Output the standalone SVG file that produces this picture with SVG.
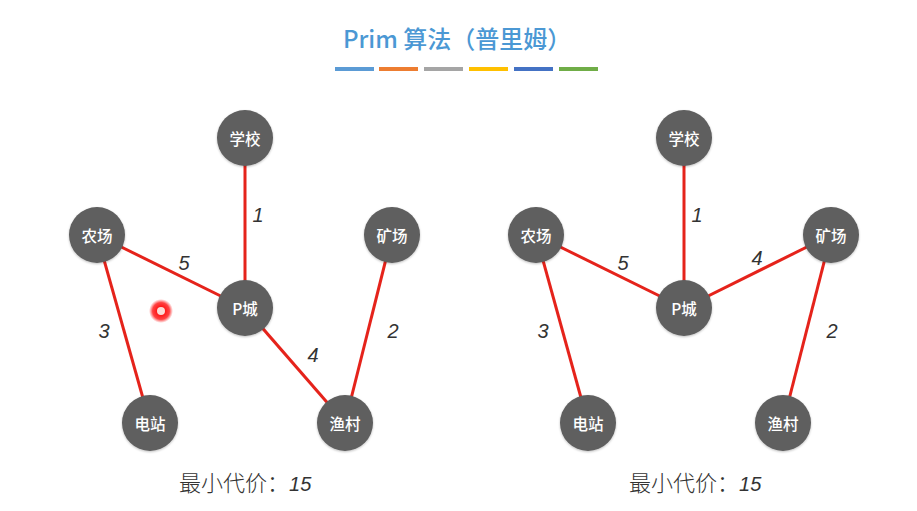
<svg xmlns="http://www.w3.org/2000/svg" width="917" height="511" viewBox="0 0 917 511">
<defs>
<filter id="sh" x="-30%" y="-30%" width="160%" height="160%">
<feDropShadow dx="0" dy="1" stdDeviation="1" flood-color="#000" flood-opacity="0.25"/>
</filter>
<radialGradient id="glow">
<stop offset="0.35" stop-color="#ff1a1a"/>
<stop offset="0.7" stop-color="#ff2020" stop-opacity="0.85"/>
<stop offset="1" stop-color="#ff4040" stop-opacity="0"/>
</radialGradient>
</defs>
<style>
.node circle{fill:#5e5e5e;filter:url(#sh)}
.node text{fill:#fff;font-family:"Noto Sans CJK SC","Liberation Sans",sans-serif;font-size:15.5px;font-weight:500;text-anchor:middle;dominant-baseline:central}
.edges line{stroke:#e5231b;stroke-width:3}
.w{font-family:"Liberation Sans",Arial,sans-serif;font-style:italic;font-size:20px;fill:#333;text-anchor:middle}
.cost{font-family:"Noto Sans CJK SC","Liberation Sans",sans-serif;font-size:22px;font-weight:300;fill:#333}
.cost tspan{font-family:"Liberation Sans",Arial,sans-serif;font-style:italic;font-size:20px}
.title{font-family:"Noto Sans CJK SC","Liberation Sans",sans-serif;font-size:24px;font-weight:500;fill:#4b98d4}
</style>
<rect width="917" height="511" fill="#fff"/>
<text class="title" x="343" y="48">Prim 算法（普里姆）</text>
<g id="bars">
<rect x="335" y="67" width="39" height="4" fill="#5b9bd5"/>
<rect x="379" y="67" width="39" height="4" fill="#ed7d31"/>
<rect x="424" y="67" width="39" height="4" fill="#a5a5a5"/>
<rect x="469" y="67" width="39" height="4" fill="#ffc000"/>
<rect x="514" y="67" width="39" height="4" fill="#4472c4"/>
<rect x="559" y="67" width="39" height="4" fill="#70ad47"/>
</g>
<g id="edges-left" class="edges">
<line x1="245" y1="138" x2="245" y2="308"/>
<line x1="97" y1="235" x2="245" y2="308"/>
<line x1="97" y1="235" x2="150" y2="423"/>
<line x1="245" y1="308" x2="345" y2="423"/>
<line x1="392" y1="235" x2="345" y2="423"/>
</g>
<g id="edges-right" class="edges">
<line x1="684" y1="138" x2="684" y2="308"/>
<line x1="536" y1="235" x2="684" y2="308"/>
<line x1="684" y1="308" x2="831" y2="235"/>
<line x1="536" y1="235" x2="588" y2="423"/>
<line x1="831" y1="235" x2="783" y2="423"/>
</g>
<g id="weights">
<text class="w" x="258" y="222">1</text>
<text class="w" x="184" y="270">5</text>
<text class="w" x="104" y="338">3</text>
<text class="w" x="313" y="362">4</text>
<text class="w" x="393" y="338">2</text>
<text class="w" x="697" y="222">1</text>
<text class="w" x="623" y="270">5</text>
<text class="w" x="757" y="265">4</text>
<text class="w" x="543" y="338">3</text>
<text class="w" x="832" y="338">2</text>
</g>
<g id="L-school" class="node"><circle cx="245" cy="138" r="28"/><text x="245" y="138">学校</text></g>
<g id="L-farm" class="node"><circle cx="97" cy="235" r="28"/><text x="97" y="235">农场</text></g>
<g id="L-mine" class="node"><circle cx="392" cy="235" r="28"/><text x="392" y="235">矿场</text></g>
<g id="L-pcity" class="node"><circle cx="245" cy="308" r="28"/><text x="245" y="308">P城</text></g>
<g id="L-power" class="node"><circle cx="150" cy="423" r="28"/><text x="150" y="423">电站</text></g>
<g id="L-fish" class="node"><circle cx="345" cy="423" r="28"/><text x="345" y="423">渔村</text></g>
<g id="R-school" class="node"><circle cx="684" cy="138" r="28"/><text x="684" y="138">学校</text></g>
<g id="R-farm" class="node"><circle cx="536" cy="235" r="28"/><text x="536" y="235">农场</text></g>
<g id="R-mine" class="node"><circle cx="831" cy="235" r="28"/><text x="831" y="235">矿场</text></g>
<g id="R-pcity" class="node"><circle cx="684" cy="308" r="28"/><text x="684" y="308">P城</text></g>
<g id="R-power" class="node"><circle cx="588" cy="423" r="28"/><text x="588" y="423">电站</text></g>
<g id="R-fish" class="node"><circle cx="783" cy="423" r="28"/><text x="783" y="423">渔村</text></g>
<text class="cost" x="179" y="491">最小代价：<tspan>15</tspan></text>
<text class="cost" x="629" y="491">最小代价：<tspan>15</tspan></text>
<g id="cursor">
<circle cx="161" cy="311" r="12" fill="url(#glow)"/>
<circle cx="161" cy="311" r="4" fill="#fbdcd6"/>
</g>
</svg>
